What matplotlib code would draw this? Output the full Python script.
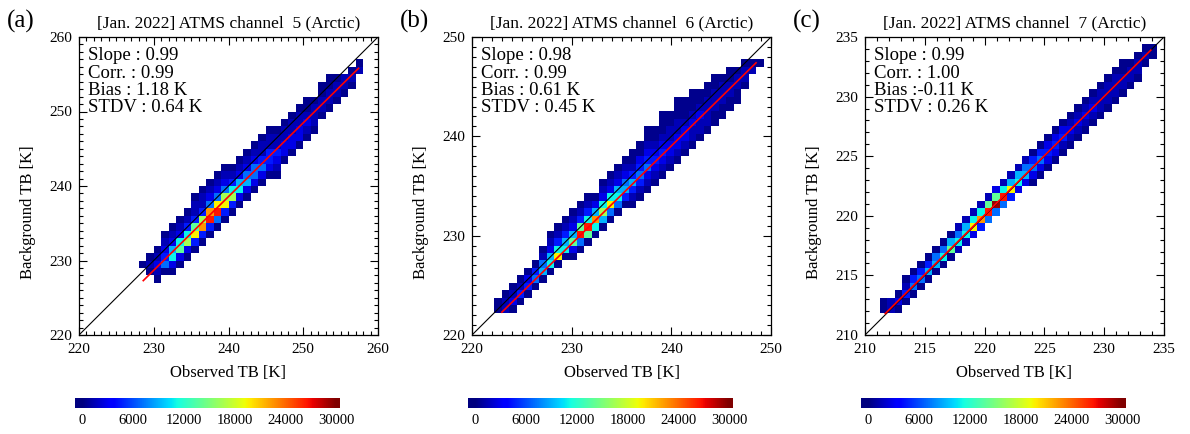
import numpy as np
import matplotlib.pyplot as plt
from matplotlib.ticker import MultipleLocator

plt.rcParams['font.family'] = ['Liberation Serif', 'DejaVu Serif']

W, H = 1190, 434

# counts given to each colour level
LEVELS = {'1': 400, '2': 1500, '3': 2800, '4': 4500, '5': 7000, '6': 9000,
          '7': 11000, '8': 14000, '9': 16500, 'Y': 19500, 'O': 22500,
          'R': 26500, 'D': 29500}

channels = [5, 6, 7]
panel_tags = ['(a)', '(b)', '(c)']
axis_ranges = [(220, 260), (220, 250), (210, 235)]
major_steps = [10, 10, 5]
slopes = ['0.99', '0.98', '0.99']
corrs = ['0.99', '0.99', '1.00']
biases = [' 1.18', ' 0.61', '-0.11']
stdvs = ['0.64', '0.45', '0.26']
fit_x = [(228.6, 257.4), (223.0, 248.5), (211.7, 233.9)]
fit_y = [(227.3, 255.8), (222.3, 247.4), (211.8, 233.9)]
cbar_ticks = [0, 6000, 12000, 18000, 24000, 30000]

# 40 x 40 bin histograms: for each column, lowest filled row and the
# level of each filled cell going up
cols_a = list(range(8, 38))
start_a = [9, 8, 7, 8, 8, 9, 10, 11, 12, 13, 14, 15, 16, 17, 18, 19, 20, 21,
           21, 23, 24, 25, 26, 27, 29, 30, 31, 32, 33, 35]
cells_a = ["1", "121", "12321", "154321", "1376321", "1387321", "1397421",
           "14Y84221", "14O94221", "14RO5321", "15RY5321", "14Y95321",
           "1497421", "1376321", "1365321", "1355321", "1354221", "1344221",
           "1234221", "133221", "133221", "133221", "123211", "12221",
           "12211", "12211", "1221", "122", "121", "21"]

cols_b = list(range(3, 39))
start_b = [3, 3, 3, 4, 5, 6, 7, 8, 9, 10, 10, 11, 12, 13, 14, 15, 16, 17, 17,
           18, 19, 20, 21, 22, 23, 24, 25, 26, 27, 28, 29, 30, 31, 33, 35, 36]
cells_b = ["11", "221", "1321", "1421", "1431", "1541", "16521", "176321",
           "1Y7421", "176421", "1386321", "15R8421", "18R7421", "17O631",
           "1697321", "15Y7321", "1576321", "1465321", "12464211",
           "12454311", "123543211", "12343211", "123432111", "12332211",
           "123322111", "12332111", "12232111", "1223211", "1222211",
           "1122211", "112221", "112211", "11221", "1221", "21", "1"]

cols_c = list(range(2, 39))
start_c = [3, 3, 3, 4, 5, 6, 7, 8, 9, 10, 11, 12, 13, 14, 15, 16, 17, 18, 19,
           20, 20, 21, 22, 23, 24, 25, 26, 27, 28, 29, 30, 31, 32, 33, 34,
           36, 37]
cells_c = ["11", "22", "131", "1421", "1541", "1541", "1641", "1651", "1751",
           "1861", "2752", "2762", "3Y72", "4O72", "5R82", "5D83", "5R72",
           "4Y62", "3762", "3652", "13541", "13541", "13431", "13431",
           "12431", "12321", "12321", "12321", "12321", "12221", "12221",
           "12221", "12211", "1221", "1221", "121", "11"]

hist_cols = [cols_a, cols_b, cols_c]
hist_starts = [start_a, start_b, start_c]
hist_cells = [cells_a, cells_b, cells_c]


def hist_grid(cols, starts, cells):
    grid = np.full((40, 40), np.nan)
    for c, r0, s in zip(cols, starts, cells):
        for k, ch in enumerate(s):
            grid[r0 + k, c] = LEVELS[ch]
    return np.ma.masked_invalid(grid)


def px_axes(x0, y0, x1, y1):
    return fig.add_axes([x0 / W, 1 - y1 / H, (x1 - x0) / W, (y1 - y0) / H])


fig = plt.figure(figsize=(W / 100, H / 100), dpi=100)

for i in range(3):
    off = 393 * i
    x0, x1 = 79 + off, 378 + off
    lo, hi = axis_ranges[i]
    ax = px_axes(x0, 37, x1, 335)

    edges = np.linspace(lo, hi, 41)
    grid = hist_grid(hist_cols[i], hist_starts[i], hist_cells[i])
    ax.pcolormesh(edges, edges, grid, cmap='jet', vmin=0, vmax=30000)
    ax.plot([lo, hi], [lo, hi], color='black', lw=0.8)
    ax.plot(fit_x[i], fit_y[i], color='red', lw=1.2)

    ax.set_xlim(lo, hi)
    ax.set_ylim(lo, hi)
    ticks = np.arange(lo, hi + 1, major_steps[i])
    ax.set_xticks(ticks)
    ax.set_yticks(ticks)
    ax.xaxis.set_minor_locator(MultipleLocator(1))
    ax.yaxis.set_minor_locator(MultipleLocator(1))
    ax.tick_params(which='both', direction='in', top=True, right=True,
                   labelsize=11, width=0.8)
    ax.tick_params(which='major', length=6)
    ax.tick_params(which='minor', length=3)
    ax.tick_params(axis='x', pad=6)
    ax.tick_params(axis='y', pad=5)
    for sp in ax.spines.values():
        sp.set_linewidth(0.9)

    cx = (x0 + x1) / 2
    fig.text(cx / W, 1 - 23.5 / H,
             '[Jan. 2022] ATMS channel  %d (Arctic)' % channels[i],
             ha='center', va='center', fontsize=12.5)
    fig.text((7 + off) / W, 1 - 21 / H, panel_tags[i], ha='left',
             va='center', fontsize=18)
    fig.text(cx / W, 1 - 373 / H, 'Observed TB [K]', ha='center',
             va='center', fontsize=12)
    fig.text((28 + off) / W, 1 - 212 / H, 'Background TB [K]', ha='center',
             va='center', rotation=90, fontsize=12)

    stats = ['Slope : ' + slopes[i], 'Corr. : ' + corrs[i],
             'Bias :' + biases[i] + ' K', 'STDV : ' + stdvs[i] + ' K']
    for k, line in enumerate(stats):
        fig.text((x0 + 9) / W, 1 - (60.5 + 17.2 * k) / H, line, ha='left',
                 va='baseline', fontsize=13.5)

    # colour bar under each panel
    cax = px_axes(75 + off, 398, 340 + off, 408)
    cax.imshow(np.linspace(-800, 30400, 400)[None, :], cmap='jet',
               vmin=0, vmax=30000, aspect='auto',
               extent=(-800, 30400, 0, 1))
    cax.set_xlim(-800, 30400)
    cax.set_xticks(cbar_ticks)
    cax.set_xticklabels([str(t) for t in cbar_ticks])
    cax.set_yticks([])
    cax.tick_params(axis='x', length=0, labelsize=10.5, pad=4)
    for sp in cax.spines.values():
        sp.set_visible(False)

fig.savefig('out.png', dpi=100)
